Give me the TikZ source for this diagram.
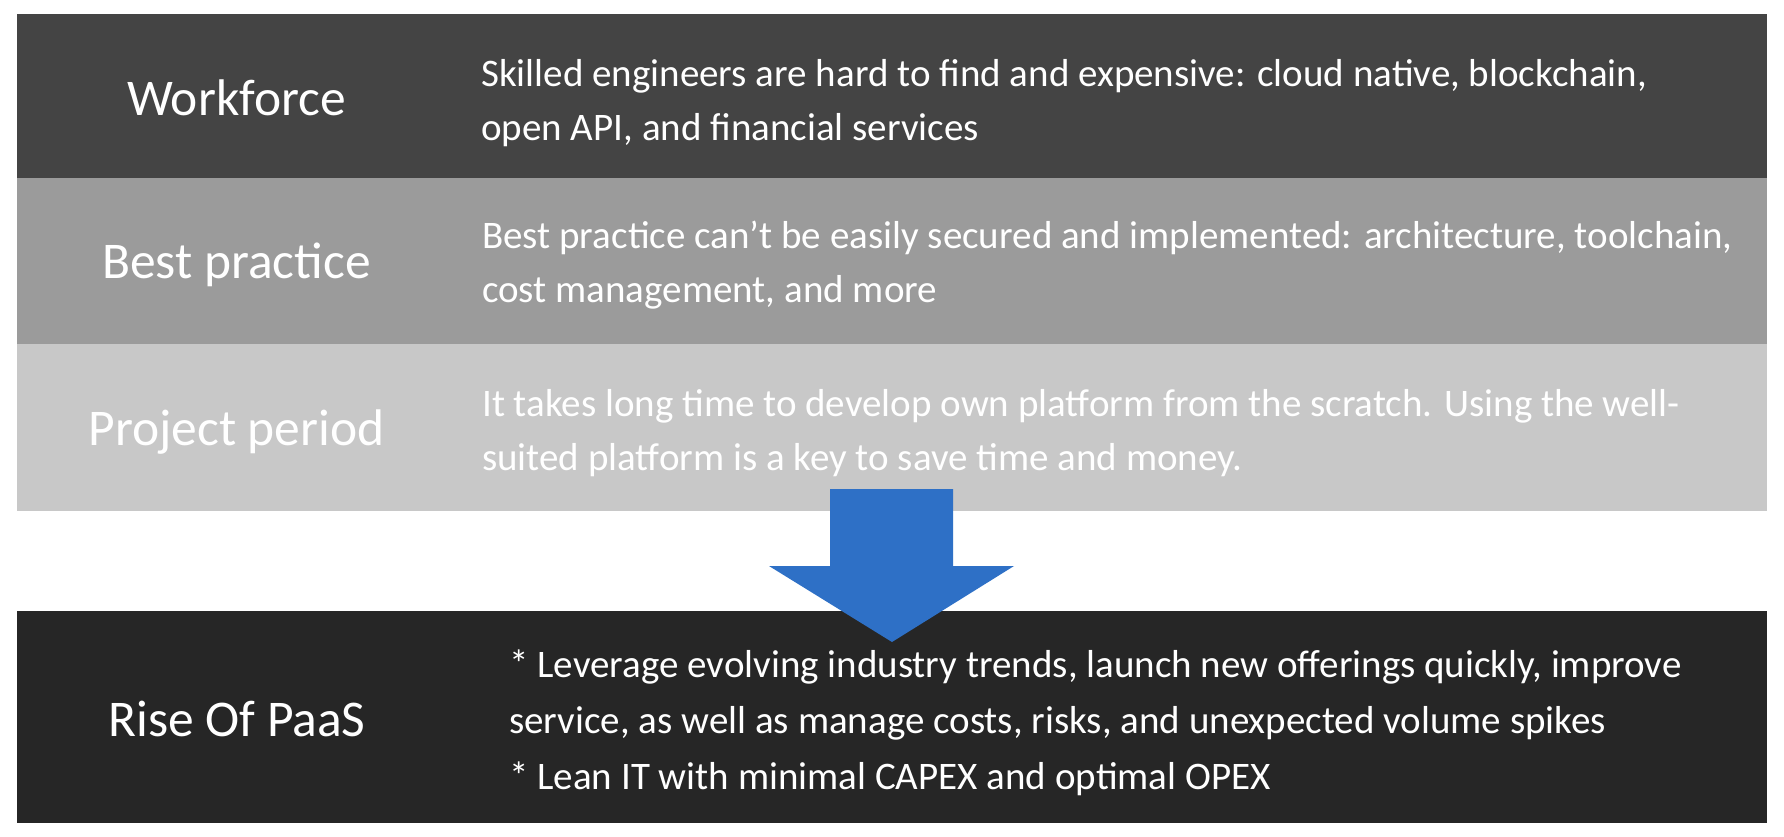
\documentclass[tikz,border=0pt]{standalone}
\usepackage{fontspec}
\setmainfont{Carlito}
\definecolor{bandA}{HTML}{444444}
\definecolor{bandB}{HTML}{9B9B9B}
\definecolor{bandC}{HTML}{C8C8C8}
\definecolor{bandD}{HTML}{262626}
\definecolor{arrowblue}{HTML}{2E70C6}
\begin{document}
\begin{tikzpicture}[x=1pt,y=-1pt,
  band/.style={draw=none, inner sep=0pt, minimum width=1750pt},
  title/.style={text=white, anchor=base, inner sep=0pt, font=\fontsize{51.5}{61}\selectfont},
  desc/.style={text=white, anchor=base west, inner sep=0pt, align=left, font=\fontsize{39}{54}\selectfont},
  bullets/.style={desc, font=\fontsize{39}{56}\selectfont}]
\useasboundingbox (0,0) rectangle (1784,836);
\fill[white] (0,0) rectangle (1784,836);

% background bands
\node[band, fill=bandA, minimum height=164pt] (bandwf) at (892,96) {};
\node[band, fill=bandB, minimum height=166pt] (bandbp) at (892,261) {};
\node[band, fill=bandC, minimum height=167pt] (bandpp) at (892,427.5) {};
\node[band, fill=bandD, minimum height=212pt] (bandpaas) at (892,717) {};

% block arrow
\fill[arrowblue] (830,489) -- (953,489) -- (953,566) -- (1014,566) -- (892,642)
  -- (769,566) -- (830,566) -- cycle;

% row titles
\node[title] (twf) at (236.5,115) {Workforce};
\node[title] (tbp) at (236.5,278) {Best practice};
\node[title] (tpp) at (236.5,445) {Project period};
\node[title] (tpaas) at (237,736) {Rise Of PaaS};

% row descriptions (anchored on the baseline of the last line)
\node[desc] (dwf) at (481,140) {Skilled engineers are hard to find and expensive: cloud native, blockchain,\\open API, and financial services};
\node[desc] (dbp) at (482,302) {Best practice can’t be easily secured and implemented: architecture, toolchain,\\cost management, and more};
\node[desc] (dpp) at (482,470) {It takes long time to develop own platform from the scratch. Using the well-\\suited platform is a key to save time and money.};
\node[bullets] (dpaas) at (509,789) {* Leverage evolving industry trends, launch new offerings quickly, improve\\service, as well as manage costs, risks, and unexpected volume spikes\\* Lean IT with minimal CAPEX and optimal OPEX};
\end{tikzpicture}
\end{document}
